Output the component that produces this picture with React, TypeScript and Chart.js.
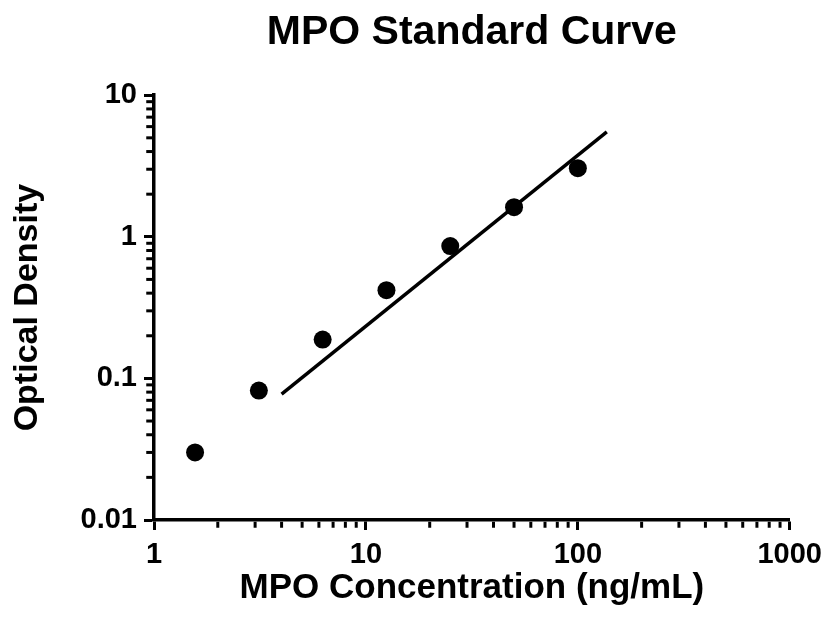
import React, { useEffect, useRef } from 'react';
import { Chart, registerables } from 'chart.js';

Chart.register(...registerables);

// ---- data ----
const concentrations = [1.5625, 3.125, 6.25, 12.5, 25, 50, 100];
const opticalDensity = [0.030, 0.082, 0.188, 0.42, 0.86, 1.62, 3.05];
const fitX = [4, 137];
const fitY = [0.0775, 5.5];
const xTickLabels = ['1', '10', '100', '1000'];
const yTickLabels = ['0.01', '0.1', '1', '10'];
const xRange = [1, 1000];
const yRange = [0.01, 10];

const FONT = "'Liberation Sans', Arial, Helvetica, sans-serif";
const BORDER_W = 3.5;
const MAJOR_LEN = 10;
const MINOR_LEN = 6;

function isMajor(v: number) {
  const l = Math.log10(v);
  return Math.abs(l - Math.round(l)) < 1e-6;
}

function logTicks(min: number, max: number) {
  const out: { value: number; major: boolean }[] = [];
  const e0 = Math.round(Math.log10(min));
  const e1 = Math.round(Math.log10(max));
  for (let e = e0; e <= e1; e++) {
    for (let d = 1; d <= 9; d++) {
      const v = parseFloat((d * Math.pow(10, e)).toPrecision(6));
      if (v < min - 1e-12 || v > max + 1e-9) continue;
      out.push({ value: v, major: d === 1 });
    }
  }
  return out;
}

const minorTickPlugin = {
  id: 'minorTicks',
  afterDraw(chart: any) {
    const ctx = chart.ctx;
    const { left, bottom } = chart.chartArea;
    const half = BORDER_W / 2;
    ctx.save();
    ctx.strokeStyle = '#000';
    ctx.lineWidth = 3;
    const xs = chart.scales.x;
    xs.ticks.forEach((t: any) => {
      if (isMajor(t.value)) return;
      const px = xs.getPixelForValue(t.value);
      ctx.beginPath();
      ctx.moveTo(px, bottom + half);
      ctx.lineTo(px, bottom + half + MINOR_LEN);
      ctx.stroke();
    });
    const ys = chart.scales.y;
    ys.ticks.forEach((t: any) => {
      if (isMajor(t.value)) return;
      const py = ys.getPixelForValue(t.value);
      ctx.beginPath();
      ctx.moveTo(left - half, py);
      ctx.lineTo(left - half - MINOR_LEN, py);
      ctx.stroke();
    });
    ctx.restore();
  },
};

export default function App() {
  const ref = useRef<HTMLCanvasElement | null>(null);

  useEffect(() => {
    document.body.style.margin = '0';
    const canvas = ref.current;
    if (!canvas) return;

    const points = concentrations.map((x, i) => ({ x, y: opticalDensity[i] }));
    const fit = fitX.map((x, i) => ({ x, y: fitY[i] }));

    const chart = new Chart(canvas, {
      type: 'scatter',
      data: {
        datasets: [
          {
            label: 'Standards',
            data: points,
            backgroundColor: '#000',
            borderColor: '#000',
            borderWidth: 0,
            pointRadius: 9,
            pointHoverRadius: 9,
          } as any,
          {
            type: 'line',
            label: 'Fit',
            data: fit,
            borderColor: '#000',
            borderWidth: 3.5,
            pointRadius: 0,
            showLine: true,
            fill: false,
            tension: 0,
          } as any,
        ],
      },
      options: {
        animation: false,
        responsive: false,
        layout: { padding: { left: 0, right: 38, top: 0, bottom: 0 } },
        plugins: {
          legend: { display: false },
          tooltip: { enabled: false },
          title: {
            display: true,
            text: 'MPO Standard Curve',
            color: '#000',
            fullSize: false,
            font: { family: FONT, size: 41, weight: 'bold' },
            padding: { top: 8, bottom: 38 },
          },
        },
        scales: {
          x: {
            type: 'logarithmic',
            min: xRange[0],
            max: xRange[1],
            afterBuildTicks: (scale: any) => {
              scale.ticks = logTicks(xRange[0], xRange[1]);
            },
            afterFit: (scale: any) => {
              scale.height = 98;
            },
            border: { display: true, color: '#000', width: BORDER_W },
            grid: {
              display: true,
              drawOnChartArea: false,
              drawTicks: true,
              tickLength: MAJOR_LEN,
              tickWidth: 3,
              tickColor: (c: any) => (isMajor(c.tick.value) ? '#000' : 'rgba(0,0,0,0)'),
            },
            ticks: {
              autoSkip: false,
              maxRotation: 0,
              minRotation: 0,
              padding: 8,
              color: '#000',
              font: { family: FONT, size: 29, weight: 'bold' },
              callback: (v: any) => {
                const n = Number(v);
                return isMajor(n) ? xTickLabels[Math.round(Math.log10(n)) - Math.round(Math.log10(xRange[0]))] : '';
              },
            },
            title: {
              display: true,
              text: 'MPO Concentration (ng/mL)',
              color: '#000',
              font: { family: FONT, size: 35, weight: 'bold' },
              padding: { top: 0, bottom: 9 },
            },
          },
          y: {
            type: 'logarithmic',
            min: yRange[0],
            max: yRange[1],
            afterBuildTicks: (scale: any) => {
              scale.ticks = logTicks(yRange[0], yRange[1]);
            },
            afterFit: (scale: any) => {
              scale.width = 154;
            },
            border: { display: true, color: '#000', width: BORDER_W },
            grid: {
              display: true,
              drawOnChartArea: false,
              drawTicks: true,
              tickLength: MAJOR_LEN,
              tickWidth: 3,
              tickColor: (c: any) => (isMajor(c.tick.value) ? '#000' : 'rgba(0,0,0,0)'),
            },
            ticks: {
              autoSkip: false,
              padding: 7,
              color: '#000',
              font: { family: FONT, size: 29, weight: 'bold' },
              callback: (v: any) => {
                const n = Number(v);
                return isMajor(n) ? yTickLabels[Math.round(Math.log10(n)) - Math.round(Math.log10(yRange[0]))] : '';
              },
            },
            title: {
              display: true,
              text: 'Optical Density',
              color: '#000',
              font: { family: FONT, size: 34, weight: 'bold' },
              padding: { top: 7, bottom: 0 },
            },
          },
        },
      } as any,
      plugins: [minorTickPlugin],
    });

    return () => chart.destroy();
  }, []);

  return (
    <div style={{ width: 830, height: 618, background: '#fff' }}>
      <canvas ref={ref} width={830} height={618} style={{ display: 'block', width: 830, height: 618 }} />
    </div>
  );
}
